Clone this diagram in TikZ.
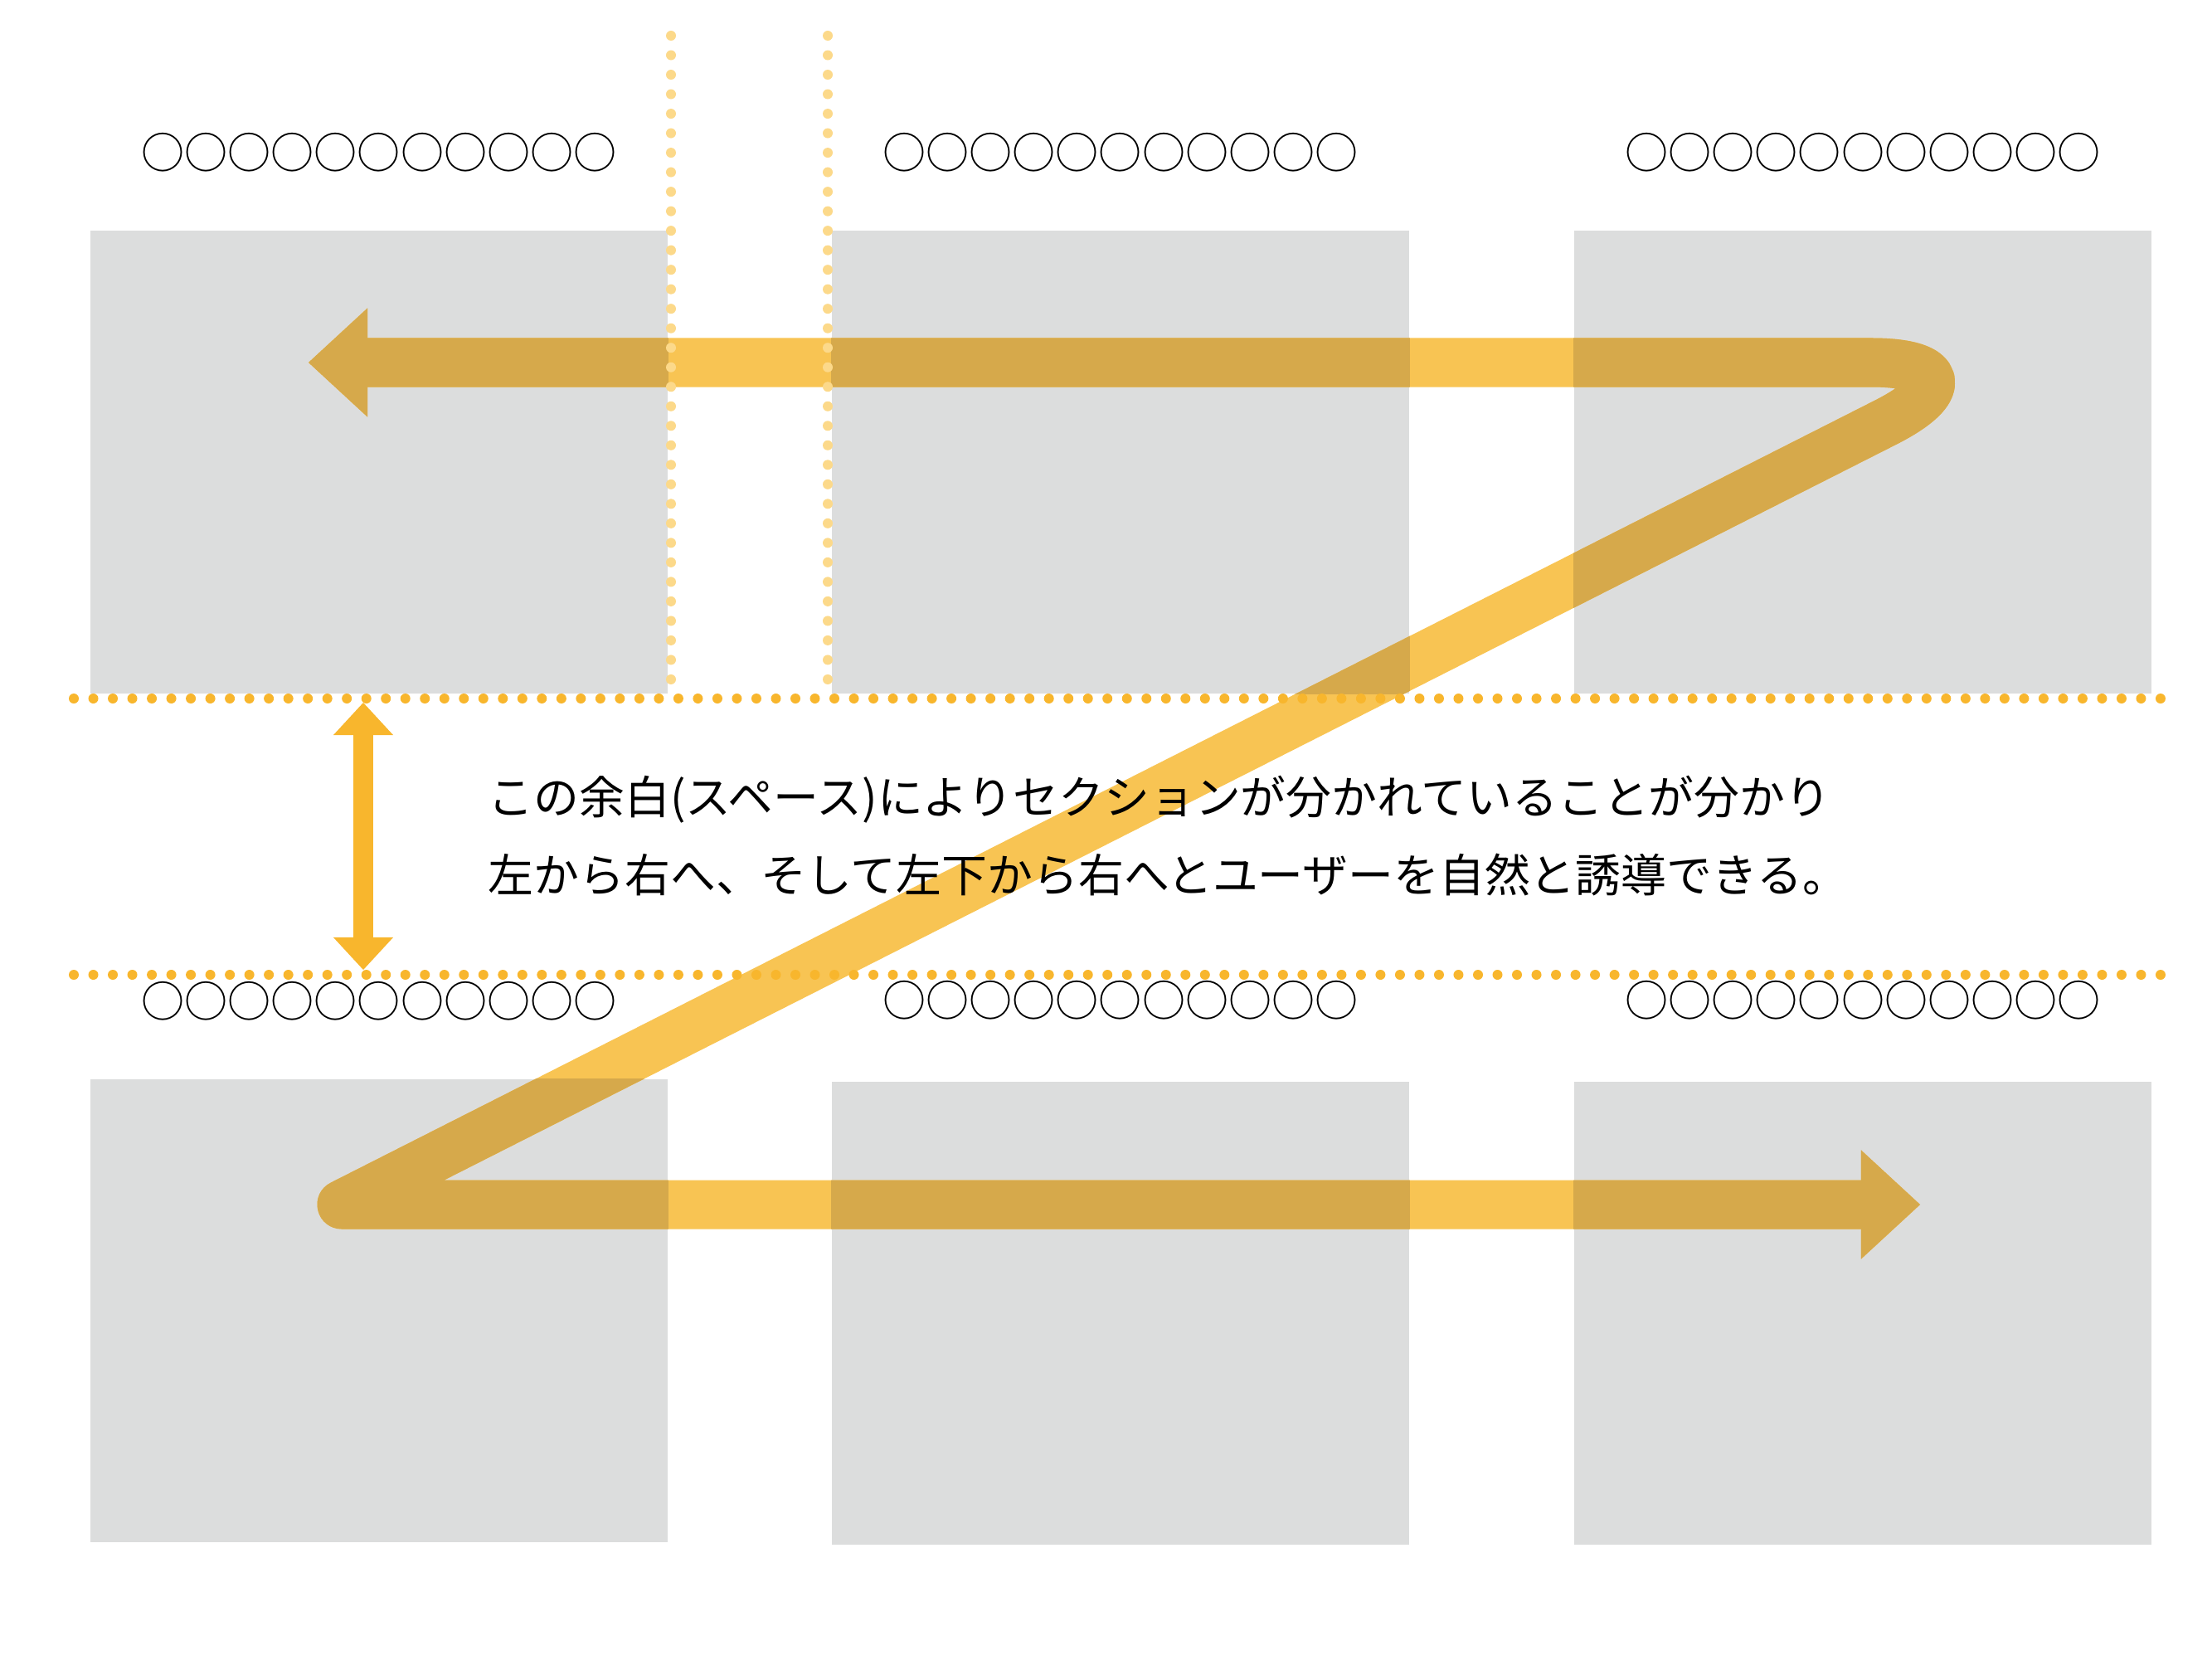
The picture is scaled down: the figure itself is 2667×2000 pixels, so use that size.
\documentclass[tikz,border=0pt]{standalone}
\usepackage{fontspec}
\usepackage{xcolor}
\usepackage{tikz}
\usetikzlibrary{arrows.meta, positioning, calc}
\newfontfamily\jpfont{Noto Sans CJK JP}

\definecolor{boxgray}{HTML}{DCDDDD}
\definecolor{zyellow}{HTML}{F8C453}
\definecolor{zdark}{HTML}{D6A94B}
\definecolor{dotorange}{HTML}{F8B62D}
\definecolor{dotlight}{HTML}{FCD98A}

\tikzset{
  bigtip/.tip={Triangle[length=0.71cm, width=1.31cm, line width=0pt]},
  smalltip/.tip={Triangle[length=0.39cm, width=0.72cm, line width=0pt]}
}

\begin{document}
\begin{tikzpicture}[x=0.01cm, y=-0.01cm,
  panel/.style={fill=boxgray, draw=none, inner sep=0pt, minimum width=6.96cm, minimum height=5.58cm},
  caption/.style={font=\jpfont\fontsize{14.8pt}{16pt}\selectfont, inner sep=0pt},
  body/.style={font=\jpfont\fontsize{15.6pt}{26.7pt}\selectfont, inner sep=0pt, align=left},
  zstroke/.style={line width=0.59cm, line join=round, bigtip-bigtip},
  dotline/.style={line width=0.12cm, line cap=round, dash pattern=on 0pt off 0.235cm}]
  % Canvas
  \useasboundingbox (0,0) rectangle (2667,2000);

  % Grey panels
  \node[panel] (p1) at (457,557) {};
  \node[panel] (p2) at (1351,557) {};
  \node[panel] (p3) at (2246,557) {};
  \node[panel] (p4) at (457,1580) {};
  \node[panel] (p5) at (1351,1583) {};
  \node[panel] (p6) at (2246,1583) {};

  % Z path corners
  \coordinate (zs) at (372,437);
  \coordinate (zr) at (2416,437);
  \coordinate (zl) at (412,1452);
  \coordinate (ze) at (2315,1452);

  % Z arrow, light over white
  \draw[zstroke, zyellow]
    (zs) [rounded corners=1.6cm] -- (zr) [sharp corners] -- (zl) -- (ze);

  % Z arrow, darker where it crosses the panels
  \begin{scope}
    \clip (p1.south west) rectangle (p1.north east)
          (p2.south west) rectangle (p2.north east)
          (p3.south west) rectangle (p3.north east)
          (p4.south west) rectangle (p4.north east)
          (p5.south west) rectangle (p5.north east)
          (p6.south west) rectangle (p6.north east);
    \draw[zstroke, zdark]
      (zs) [rounded corners=1.6cm] -- (zr) [sharp corners] -- (zl) -- (ze);
  \end{scope}

  % Column gap guides
  \draw[dotline, dotlight] (809,43) -- (809,833);
  \draw[dotline, dotlight] (998,43) -- (998,833);

  % Row gap guides
  \draw[dotline, dotorange] (89,842) -- (2619,842);
  \draw[dotline, dotorange] (89,1175) -- (2619,1175);

  % Gap marker
  \coordinate (gt) at (438,847);
  \coordinate (gb) at (438,1169);
  \draw[dotorange, line width=0.24cm, smalltip-smalltip] (gt) -- (gb);

  % Captions
  \node[caption] (c1) at ($(p1.north)+(0,-93)$) {○○○○○○○○○○○};
  \node[caption] (c2) at ($(p2.north)+(0,-93)$) {○○○○○○○○○○○};
  \node[caption] (c3) at ($(p3.north)+(0,-93)$) {○○○○○○○○○○○};
  \node[caption] (c4) at ($(p4.north)+(0,-93)$) {○○○○○○○○○○○};
  \node[caption] (c5) at ($(p5.north)+(0,-97)$) {○○○○○○○○○○○};
  \node[caption] (c6) at ($(p6.north)+(0,-97)$) {○○○○○○○○○○○};

  % Message
  \node[body, anchor=west] (msg) at (588,1008)
    {この余白(スペース)によりセクションが分かれていることが分かり\\左から右へ、そして左下から右へとユーザーを自然と誘導できる。};
\end{tikzpicture}
\end{document}
